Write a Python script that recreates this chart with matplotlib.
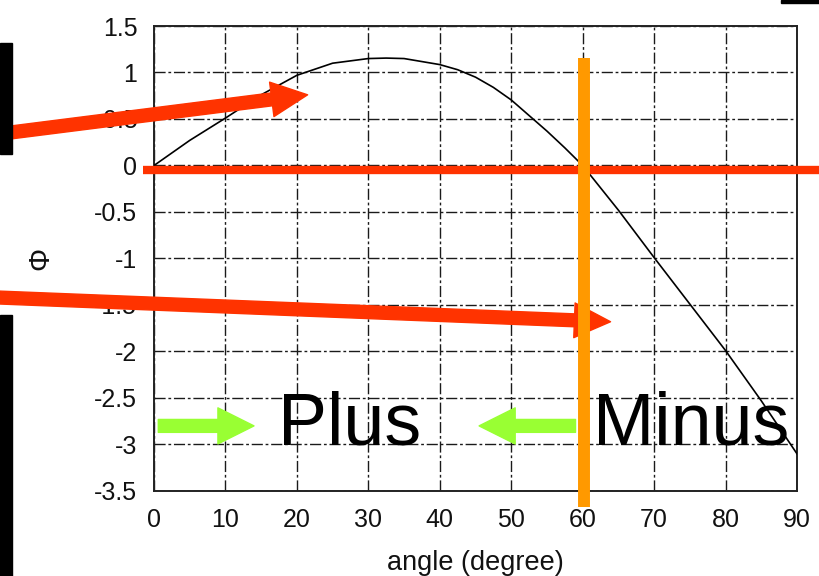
import matplotlib
matplotlib.use("Agg")
import matplotlib.pyplot as plt
from matplotlib.patches import FancyArrowPatch, Rectangle

plt.rcParams['font.family'] = ['Liberation Sans', 'DejaVu Sans']

# curve
angle = [0, 5, 10, 15, 20, 25, 30, 32.5, 35, 40, 42.5, 45, 47.5, 50, 55, 57.5, 60,
         62.5, 65, 70, 75, 80, 85, 90]
phi = [0.0, 0.27, 0.51, 0.76, 0.97, 1.10, 1.15, 1.155, 1.15, 1.085, 1.03, 0.95, 0.84,
       0.705, 0.37, 0.19, 0.0, -0.24, -0.48, -0.99, -1.49, -1.99, -2.53, -3.10]

xticks = [0, 10, 20, 30, 40, 50, 60, 70, 80, 90]
yticks = [-3.5, -3, -2.5, -2, -1.5, -1, -0.5, 0, 0.5, 1, 1.5]
ytick_labels = ['-3.5', '-3', '-2.5', '-2', '-1.5', '-1', '-0.5', '0', '0.5', '1', '1.5']

# slide annotations (data units)
red_arrows = [((-21.6, 0.34), (21.5, 0.76)), ((-21.6, -1.42), (63.9, -1.68))]
green_arrows = [((0.6, -2.80), (14.0, -2.80)), ((59.0, -2.80), (45.5, -2.80))]
words = [(17.4, 'Plus'), (61.4, 'Minus')]
words_y = -3.0
border_angle = 60.25

W, H = 819, 576
fig = plt.figure(figsize=(W / 100, H / 100), dpi=100)
ax = fig.add_axes([154 / W, 1 - 491 / H, 643 / W, 465 / H])

ax.plot(angle, phi, color='black', lw=1.2, zorder=3)
ax.set_xlim(0, 90)
ax.set_ylim(-3.5, 1.5)
ax.set_xticks(xticks)
ax.set_yticks(yticks)
ax.set_yticklabels(ytick_labels)
ax.tick_params(length=0, labelsize=18, labelcolor='#111111')
ax.tick_params(axis='y', pad=12)
ax.tick_params(axis='x', pad=12)
ax.grid(True, color='#1a1a1a', lw=1.0, linestyle=(0, (8, 2, 2, 2)))
for s in ax.spines.values():
    s.set_color('#222222')
    s.set_linewidth(1.4)

ax.set_xlabel('angle (degree)', fontsize=19.5, labelpad=13, color='#111111')
ax.set_ylabel('Φ', fontsize=21, va='center', color='#111111')
ax.yaxis.set_label_coords(-0.177, 0.5)

# red zero line
ax.plot([-1.5, 93.2], [-0.05, -0.05], color='#ff3300', lw=6.0, clip_on=False,
        solid_capstyle='butt', zorder=4)

# red arrows
for tail, tip in red_arrows:
    a = FancyArrowPatch(tail, tip, arrowstyle='simple,head_length=26,head_width=25,tail_width=9.3',
                        mutation_scale=1, color='#ff3300', shrinkA=0, shrinkB=0,
                        clip_on=False, zorder=5)
    ax.add_patch(a)

# orange border line
ax.plot([border_angle, border_angle], [1.16, -3.67], color='#ff9900', lw=8.6,
        clip_on=False, solid_capstyle='butt', zorder=6)

# green arrows
for tail, tip in green_arrows:
    a = FancyArrowPatch(tail, tip, arrowstyle='simple,head_length=26,head_width=26,tail_width=9.3',
                        mutation_scale=1, color='#99ff33', shrinkA=0, shrinkB=0,
                        clip_on=False, zorder=5)
    ax.add_patch(a)

for x, w in words:
    ax.text(x, words_y, w, fontsize=53, ha='left', va='baseline', color='black', zorder=7)

# cropped slide boxes at the edges
fig.add_artist(Rectangle((0, 1 - 154 / H), 12 / W, 111 / H, transform=fig.transFigure,
                         color='black', zorder=1))
fig.add_artist(Rectangle((0, 0), 12 / W, 261 / H, transform=fig.transFigure,
                         color='black', zorder=1))
fig.add_artist(Rectangle((781 / W, 1 - 3 / H), 38 / W, 3 / H, transform=fig.transFigure,
                         color='black', zorder=1))

fig.savefig('out.png', dpi=100)
